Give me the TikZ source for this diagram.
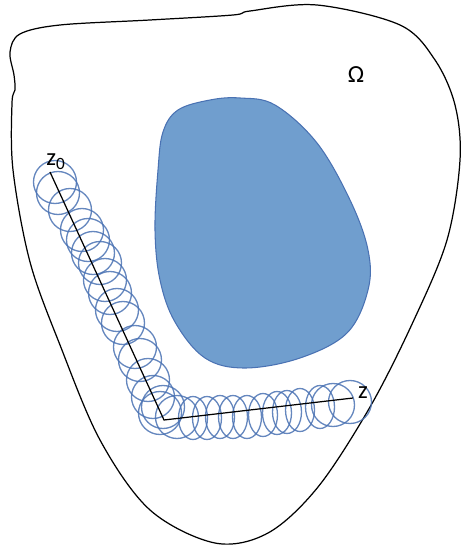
\documentclass[tikz,border=0pt]{standalone}
\usepackage{fontspec}
\setmainfont{Carlito}
\definecolor{BallBlue}{HTML}{4A72B3}
\definecolor{ObstacleBlue}{HTML}{709ECE}

\begin{document}
\begin{tikzpicture}[x=0.02cm, y=-0.02cm,
    ball/.style={draw=BallBlue, line width=0.75pt, draw opacity=0.85},
    every node/.style={font=\fontsize{14}{16}\selectfont, inner sep=0pt}]
    \useasboundingbox (0,0) rectangle (462,546);
    \draw [line width=0.7pt] plot [smooth cycle, tension=0.55] coordinates {(12,103) (13,170) (30,262) (60,345) (100,440) (150,510) (215,543) (268,533) (318,487) (370,407) (413,322) (447,240) (460,160) (455,105) (435,60) (400,25) (317,5) (250,11) (233,15) (150,20) (60,25) (20,34) (10,52) (14,75) (15,90)};
    \draw [fill=ObstacleBlue, draw=BallBlue, line width=0.6pt] plot [smooth cycle, tension=0.6] coordinates {(240,98) (275,105) (317,143) (350,200) (368,250) (368,290) (347,333) (300,358) (245,368) (205,358) (175,322) (160,280) (155,230) (158,170) (163,132) (178,110) (210,100)};

    \foreach \x/\y in {55/182, 58/193, 70/210, 82/230, 88/240, 93/253, 100/263, 105/280, 110/293, 117/310, 123/323, 135/347, 140/360, 148/380, 153/397, 163/407, 160/413, 177/417, 333/405, 350/402}
        \draw [ball] (\x,\y) circle [radius=21.5];
    \foreach \x/\y in {193/418, 207/418, 220/417, 233/417, 247/417, 263/415, 277/413, 287/412, 300/410, 320/407}
        \draw [ball] (\x,\y) ellipse [x radius=14.5, y radius=21.5];

    \coordinate (z0) at (50,172);
    \coordinate (corner) at (164,420);
    \coordinate (zend) at (353,398);
    \draw [line width=0.7pt] (z0) -- (corner) -- (zend);

    \node (omega) at (356,75) {Ω};
    \node (zlabel0) at (56,162) {z\textsubscript{0}};
    \node (zlabel) at (363,393) {z};
\end{tikzpicture}
\end{document}
